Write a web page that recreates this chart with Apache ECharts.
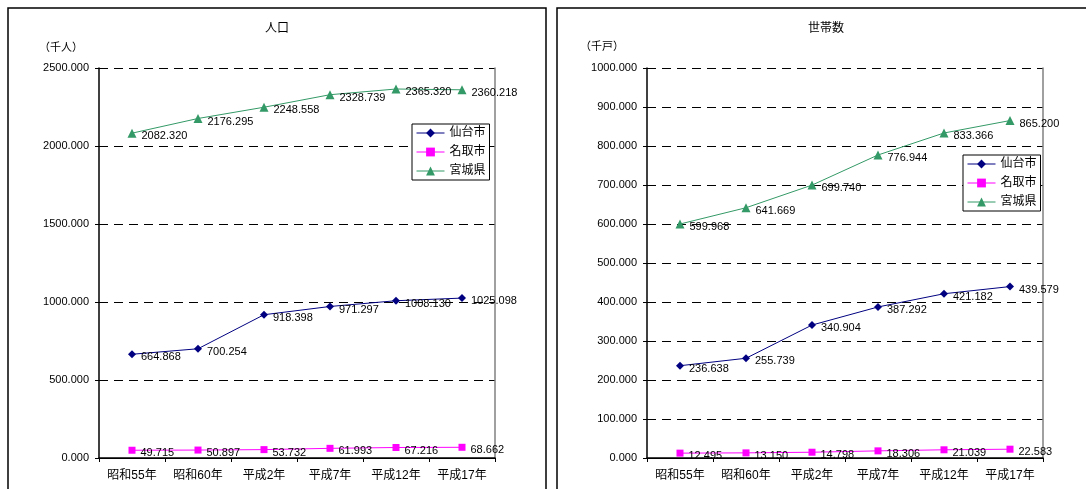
<!DOCTYPE html>
<html><head><meta charset="utf-8">
<script src="https://cdn.jsdelivr.net/npm/echarts/dist/echarts.min.js"></script>
<style>html,body{margin:0;padding:0;background:#fff}#c{width:1086px;height:489px}</style>
</head><body><div id="c"></div>
<script>
const categories = ['昭和55年', '昭和60年', '平成2年', '平成7年', '平成12年', '平成17年'];
const seriesNames = ['仙台市', '名取市', '宮城県'];
const popSendai = [664.868, 700.254, 918.398, 971.297, 1008.130, 1025.098];
const popNatori = [49.715, 50.897, 53.732, 61.993, 67.216, 68.662];
const popMiyagi = [2082.320, 2176.295, 2248.558, 2328.739, 2365.320, 2360.218];
const hhSendai = [236.638, 255.739, 340.904, 387.292, 421.182, 439.579];
const hhNatori = [12.495, 13.150, 14.798, 18.306, 21.039, 22.583];
const hhMiyagi = [599.968, 641.669, 699.740, 776.944, 833.366, 865.200];
const titles = ['人口', '世帯数'];
const units = ['（千人）', '（千戸）'];

const FONT = "'Liberation Sans', 'Noto Sans CJK JP', sans-serif";
const colors = ['#000080', '#FF00FF', '#339966'];
const symbols = ['diamond', 'rect', 'triangle'];
const symSizes = [8, 7, 9];

const chart = echarts.init(document.getElementById('c'));

const grids = [
  {left: 99, top: 68, width: 396, height: 390},
  {left: 647, top: 68, width: 396, height: 390}
];
const yMax = [2500, 1000];
const yInt = [500, 100];

const xAxes = [], yAxes = [];
for (let g = 0; g < 2; g++) {
  xAxes.push({
    type: 'category', gridIndex: g, data: categories, position: 'bottom',
    axisLine: {lineStyle: {color: '#000', width: 1.5}},
    axisTick: {show: true, length: 4, lineStyle: {color: '#000'}},
    axisLabel: {color: '#000', fontSize: 12, fontFamily: FONT, margin: 12}
  });
  xAxes.push({
    type: 'category', gridIndex: g, data: categories, position: 'top',
    axisLine: {lineStyle: {color: '#000', width: 1.2}},
    axisTick: {show: false}, axisLabel: {show: false}
  });
  yAxes.push({
    type: 'value', gridIndex: g, min: 0, max: yMax[g], interval: yInt[g], position: 'left',
    axisLine: {show: true, lineStyle: {color: '#000', width: 1.5}},
    axisTick: {show: true, length: 4, lineStyle: {color: '#000'}},
    axisLabel: {color: '#000', fontSize: 11, fontFamily: FONT, margin: 10,
      formatter: v => v.toFixed(3)},
    splitLine: {show: true, lineStyle: {color: '#000', type: [9, 6], width: 1}}
  });
  yAxes.push({
    type: 'value', gridIndex: g, min: 0, max: yMax[g], interval: yInt[g], position: 'right',
    axisLine: {show: true, lineStyle: {color: '#808080', width: 1.5}},
    axisTick: {show: false}, axisLabel: {show: false}, splitLine: {show: false}
  });
}

const dataSets = [[popSendai, popNatori, popMiyagi], [hhSendai, hhNatori, hhMiyagi]];
const series = [];
for (let g = 0; g < 2; g++) {
  for (let s = 0; s < 3; s++) {
    series.push({
      name: seriesNames[s], type: 'line', xAxisIndex: g * 2, yAxisIndex: g * 2,
      data: dataSets[g][s], symbol: symbols[s], symbolSize: symSizes[s],
      itemStyle: {color: colors[s]}, lineStyle: {color: colors[s], width: 1},
      animation: false,
      label: {show: true, position: 'right', distance: 5, offset: [0, 3],
        color: '#000', fontSize: 11, fontFamily: FONT,
        formatter: p => p.value.toFixed(3)}
    });
  }
}

const legendBase = {
  orient: 'vertical', data: seriesNames, backgroundColor: '#fff',
  borderColor: '#000', borderWidth: 1, padding: [3, 4, 3, 4],
  itemGap: 7, itemWidth: 28, itemHeight: 11,
  lineStyle: {width: 1},
  textStyle: {fontSize: 12, fontFamily: FONT, color: '#000'}, selectedMode: false
};

chart.setOption({
  animation: false,
  grid: grids,
  xAxis: xAxes,
  yAxis: yAxes,
  series: series,
  legend: [
    Object.assign({left: 412, top: 124}, legendBase),
    Object.assign({left: 963, top: 155}, legendBase)
  ],
  graphic: [
    {type: 'rect', shape: {x: 8, y: 8, width: 538, height: 500}, style: {fill: 'none', stroke: '#000', lineWidth: 1.5}, silent: true},
    {type: 'rect', shape: {x: 557, y: 8, width: 600, height: 500}, style: {fill: 'none', stroke: '#000', lineWidth: 1.5}, silent: true},
    {type: 'text', x: 277, y: 29, style: {text: titles[0], align: 'center', verticalAlign: 'middle', font: '12px ' + FONT, fill: '#000'}},
    {type: 'text', x: 826, y: 29, style: {text: titles[1], align: 'center', verticalAlign: 'middle', font: '12px ' + FONT, fill: '#000'}},
    {type: 'text', x: 61, y: 48, style: {text: units[0], align: 'center', verticalAlign: 'middle', font: '11px ' + FONT, fill: '#000'}},
    {type: 'text', x: 602, y: 47, style: {text: units[1], align: 'center', verticalAlign: 'middle', font: '11px ' + FONT, fill: '#000'}}
  ]
});
</script>
</body></html>
